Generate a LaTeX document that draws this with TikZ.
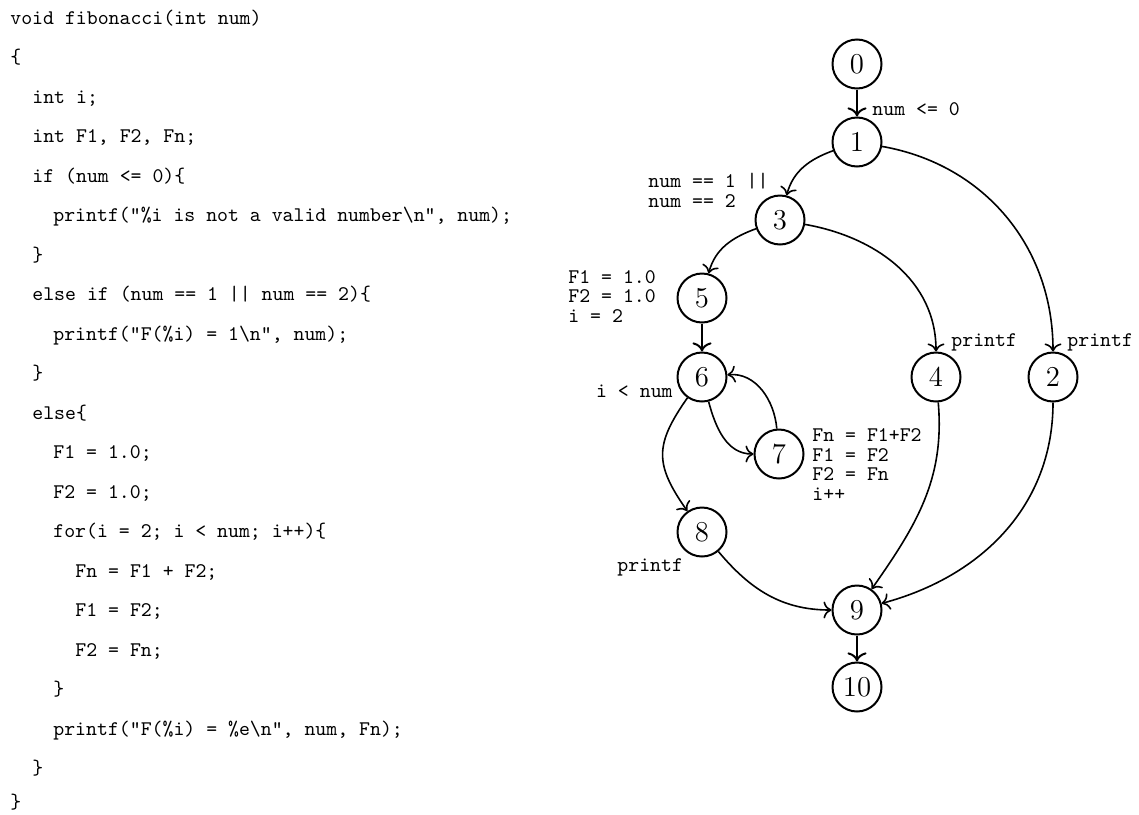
\documentclass[tikz,border=0pt]{standalone}
\usepackage{tikz}
\usetikzlibrary{arrows.meta}

\tikzset{
  nd/.style={circle, draw, line width=1pt, minimum size=24.5pt, inner sep=1pt,
    font=\fontsize{14.4}{14.4}\selectfont},
  codeline/.style={anchor=base west, inner sep=0pt,
    font=\ttfamily\fontsize{10.4}{12}\selectfont},
  lbl/.style={inner sep=0pt, align=left,
    font=\ttfamily\fontsize{10.4}{9.75}\selectfont},
  edge/.style={->, thick},
}

\begin{document}
\begin{tikzpicture}[>={To[scale=1.2]}, x=0.5pt, y=-0.5pt]
 \useasboundingbox (0,0) rectangle (1139,814);
 % source code
 \node[codeline] (c1) at (10,24) {void fibonacci(int num)};
 \node[codeline] (c2) at (10,63.5) {\{};
 \node[codeline] (c3) at (32,103) {int i;};
 \node[codeline] (c4) at (32,142.5) {int F1, F2, Fn;};
 \node[codeline] (c5) at (32,182) {if (num <= 0)\{};
 \node[codeline] (c6) at (53,221.5) {printf("\%i is not a valid number\textbackslash n", num);};
 \node[codeline] (c7) at (32,261) {\}};
 \node[codeline] (c8) at (32,300.5) {else if (num == 1 || num == 2)\{};
 \node[codeline] (c9) at (53,340) {printf("F(\%i) = 1\textbackslash n", num);};
 \node[codeline] (c10) at (32,379.5) {\}};
 \node[codeline] (c11) at (32,419) {else\{};
 \node[codeline] (c12) at (53,458.5) {F1 = 1.0;};
 \node[codeline] (c13) at (53,498) {F2 = 1.0;};
 \node[codeline] (c14) at (53,537.5) {for(i = 2; i < num; i++)\{};
 \node[codeline] (c15) at (75,577) {Fn = F1 + F2;};
 \node[codeline] (c16) at (75,616.5) {F1 = F2;};
 \node[codeline] (c17) at (75,656) {F2 = Fn;};
 \node[codeline] (c18) at (53,695.5) {\}};
 \node[codeline] (c19) at (53,735) {printf("F(\%i) = \%e\textbackslash n", num, Fn);};
 \node[codeline] (c20) at (32,774.5) {\}};
 \node[codeline] (c21) at (10,808) {\}};

 % control flow graph
 \node[nd] (n0) at (857,64) {0};
 \node[nd] (n1) at (857,142) {1};
 \node[nd] (n3) at (780,220) {3};
 \node[nd] (n5) at (702,298) {5};
 \node[nd] (n6) at (702,377) {6};
 \node[nd] (n7) at (779,454) {7};
 \node[nd] (n8) at (702,532) {8};
 \node[nd] (n4) at (936,377) {4};
 \node[nd] (n2) at (1053,377) {2};
 \node[nd] (n9) at (857,610) {9};
 \node[nd] (n10) at (857,687) {10};

 \draw[edge, line width=1pt] (n0) -- (n1);
 \draw[edge] (n1) to[out=200, in=75] (n3);
 \draw[edge] (n3) to[out=200, in=75] (n5);
 \draw[edge, line width=1pt] (n5) -- (n6);
 \draw[edge] (n1) to[out=-10, in=90] (n2);
 \draw[edge] (n3) to[out=-10, in=90] (n4);
 \draw[edge] (n6) to[out=-75, in=180] (n7);
 \draw[edge] (n7) to[out=95, in=5] (n6);
 \draw[edge] (n6) to[out=235, in=125, looseness=1.3] (n8);
 \draw[edge] (n8) to[out=-50, in=180] (n9);
 \draw[edge] (n4) to[out=-85, in=55] (n9);
 \draw[edge] (n2) to[out=-90, in=15] (n9);
 \draw[edge, line width=1pt] (n9) -- (n10);

 % edge notes (base = last line)
 \node[lbl, anchor=base west] (l01) at (872,115) {num <= 0};
 \node[lbl, anchor=base west] (l13) at (648,207) {num == 1 ||\\num == 2};
 \node[lbl, anchor=base west] (l5) at (568,322) {F1 = 1.0\\F2 = 1.0\\i = 2};
 \node[lbl, anchor=base east] (l6) at (673,397) {i < num};
 \node[lbl, anchor=base west] (l7) at (812,500) {Fn = F1+F2\\F1 = F2\\F2 = Fn\\i++};
 \node[lbl, anchor=base west] (l4) at (951,346) {printf};
 \node[lbl, anchor=base west] (l2) at (1067,346) {printf};
 \node[lbl, anchor=base west] (l8) at (617,571) {printf};
\end{tikzpicture}
\end{document}
